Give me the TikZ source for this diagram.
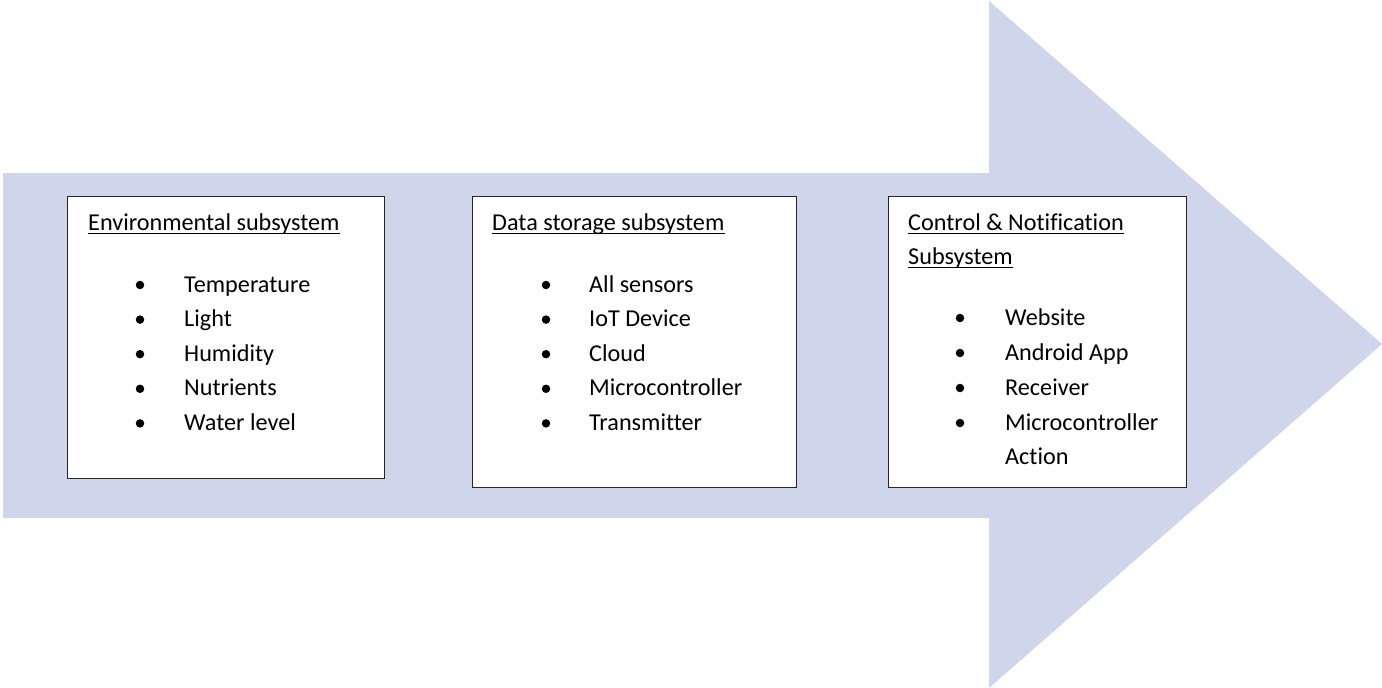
\documentclass[tikz,border=0pt]{standalone}
\usepackage{fontspec}
\setmainfont{Carlito}[Ligatures=NoCommon]
\definecolor{arrowfill}{RGB}{207,213,234}
\tikzset{
  panel/.style={draw=black!85, line width=1pt, fill=white, inner sep=0pt},
  title/.style={anchor=base west, inner sep=0pt, font=\fontsize{24.2pt}{28pt}\selectfont},
  item/.style={anchor=base west, inner sep=0pt, font=\fontsize{24.2pt}{28pt}\selectfont},
  dot/.style={circle, fill=black, inner sep=0pt, minimum size=8.5pt},
  uline/.style={line width=1.3pt}
}
\begin{document}
\begin{tikzpicture}[x=1pt,y=-1pt]
\useasboundingbox (0,0) rectangle (1382,688);
\fill[arrowfill] (3,173) -- (989,173) -- (989,1) -- (1382,344) -- (989,688) -- (989,518) -- (3,518) -- cycle;

% panels
\node[panel, minimum width=317pt, minimum height=282pt] (p1) at (225.5,337) {};
\node[panel, minimum width=324pt, minimum height=291pt] (p2) at (634,341.5) {};
\node[panel, minimum width=298pt, minimum height=291pt] (p3) at (1037,341.5) {};

% panel 1
\node[title] (t1) at (88,230) {Environmental subsystem};
\draw[uline] ([yshift=-3.5pt]t1.base west) -- ([yshift=-3.5pt]t1.base east);
\foreach \y/\txt [count=\i] in {292/Temperature,326.6/Light,361.2/Humidity,395.8/Nutrients,430.4/Water level}{
  \node[dot] (b1\i) at (140,\y-7) {};
  \node[item] (i1\i) at (184,\y) {\txt};
}

% panel 2
\node[title] (t2) at (492,230) {Data storage subsystem};
\draw[uline] ([yshift=-3.5pt]t2.base west) -- ([yshift=-3.5pt]t2.base east);
\foreach \y/\txt [count=\i] in {292/All sensors,326.6/IoT Device,361.2/Cloud,395.8/Microcontroller,430.4/Transmitter}{
  \node[dot] (b2\i) at (546,\y-7) {};
  \node[item] (i2\i) at (589,\y) {\txt};
}

% panel 3
\node[title] (t3a) at (908,230) {Control \& Notification};
\draw[uline] ([yshift=-3.5pt]t3a.base west) -- ([yshift=-3.5pt]t3a.base east);
\node[title] (t3b) at (908,264) {Subsystem};
\draw[uline] ([yshift=-3.5pt]t3b.base west) -- ([yshift=-3.5pt]t3b.base east);
\foreach \y/\txt [count=\i] in {325/Website,360/Android App,395/Receiver,430/Microcontroller}{
  \node[dot] (b3\i) at (960,\y-7) {};
  \node[item] (i3\i) at (1005,\y) {\txt};
}
\node[item] (i35) at (1005,464) {Action};
\end{tikzpicture}
\end{document}
